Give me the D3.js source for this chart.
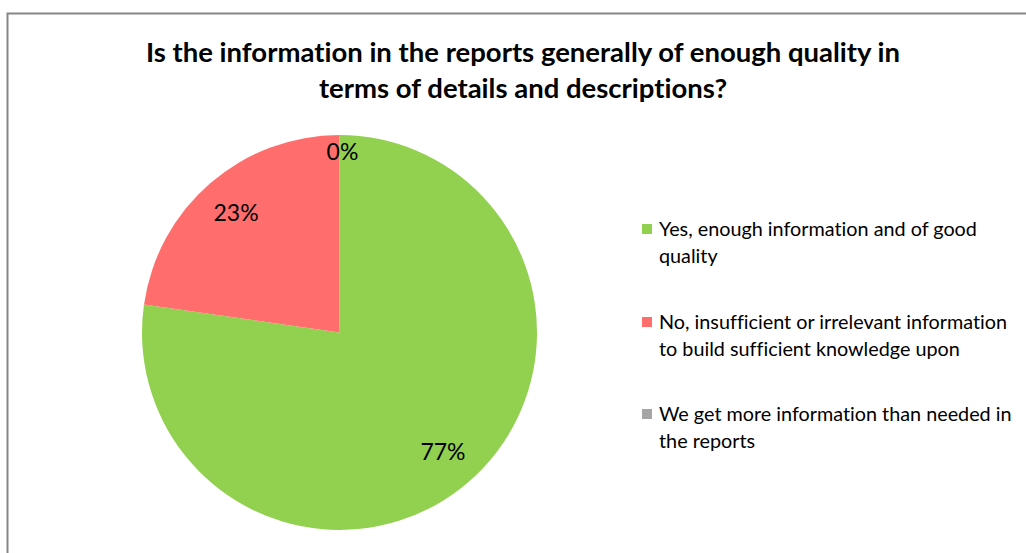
<!DOCTYPE html>
<html>
<head>
<meta charset="utf-8">
<script src="https://cdn.jsdelivr.net/npm/d3@7"></script>
<style>
  html, body { margin: 0; padding: 0; background: #fff; }
  svg { display: block; }
  text { font-variant-ligatures: none; font-feature-settings: "liga" 0, "clig" 0; }
</style>
</head>
<body>
<svg id="chart" width="1026" height="553"></svg>
<script>
// Survey answers (respondent counts)
const categories = [
  "Yes, enough information and of good quality",
  "No, insufficient or irrelevant information to build sufficient knowledge upon",
  "We get more information than needed in the reports"
];
const counts = [17, 5, 0];
const colors = ["#92d050", "#ff6d6d", "#a5a5a5"];
const legendLines = [
  ["Yes, enough information and of good", "quality"],
  ["No, insufficient or irrelevant information", "to build sufficient knowledge upon"],
  ["We get more information than needed in", "the reports"]
];
const titleLines = [
  "Is the information in the reports generally of enough quality in",
  "terms of details and descriptions?"
];

const svg = d3.select("#chart");
const font = "Lato, 'Open Sans', sans-serif";

// chart frame
svg.append("rect")
  .attr("x", 7.5).attr("y", 13.5)
  .attr("width", 1030).attr("height", 560)
  .attr("fill", "#fff")
  .attr("stroke", "#868686").attr("stroke-width", 2);

// title
const title = svg.append("text")
  .attr("text-anchor", "middle")
  .attr("font-family", font)
  .attr("font-weight", "bold")
  .attr("font-size", 27.5)
  .attr("fill", "#000");
titleLines.forEach((t, i) => {
  title.append("tspan").attr("x", 523).attr("y", 62 + i * 36).text(t);
});

// pie
const cx = 339.5, cy = 332.5, r = 197.5;
const total = d3.sum(counts);
const pie = d3.pie().sort(null).value(d => d)(counts);
const arc = d3.arc().innerRadius(0).outerRadius(r);
const g = svg.append("g").attr("transform", `translate(${cx},${cy})`);
g.selectAll("path.slice")
  .data(pie)
  .join("path")
  .attr("class", "slice")
  .attr("d", arc)
  .attr("fill", (d, i) => colors[i]);

// percentage labels: inside the slice, the empty slice's label sits at the top edge
const labelArc = d3.arc().innerRadius(r * 0.8).outerRadius(r * 0.8);
const labelPos = d => d.value > 0 ? labelArc.centroid(d) : [3, -181];
g.selectAll("text.pct")
  .data(pie)
  .join("text")
  .attr("class", "pct")
  .attr("text-anchor", "middle")
  .attr("font-family", font)
  .attr("font-size", 23)
  .attr("fill", "#000")
  .attr("x", d => labelPos(d)[0])
  .attr("y", d => labelPos(d)[1] + 8)
  .text(d => Math.round(d.value / total * 100) + "%");

// legend
const legend = svg.append("g");
const legendY = [236, 329, 421];
categories.forEach((c, i) => {
  const item = legend.append("g");
  item.append("rect")
    .attr("x", 642).attr("y", legendY[i] - 12)
    .attr("width", 10).attr("height", 10)
    .attr("fill", colors[i]);
  const t = item.append("text")
    .attr("font-family", font)
    .attr("font-size", 19.8)
    .attr("fill", "#000");
  legendLines[i].forEach((line, j) => {
    t.append("tspan").attr("x", 659).attr("y", legendY[i] + j * 27).text(line);
  });
});
</script>
</body>
</html>
